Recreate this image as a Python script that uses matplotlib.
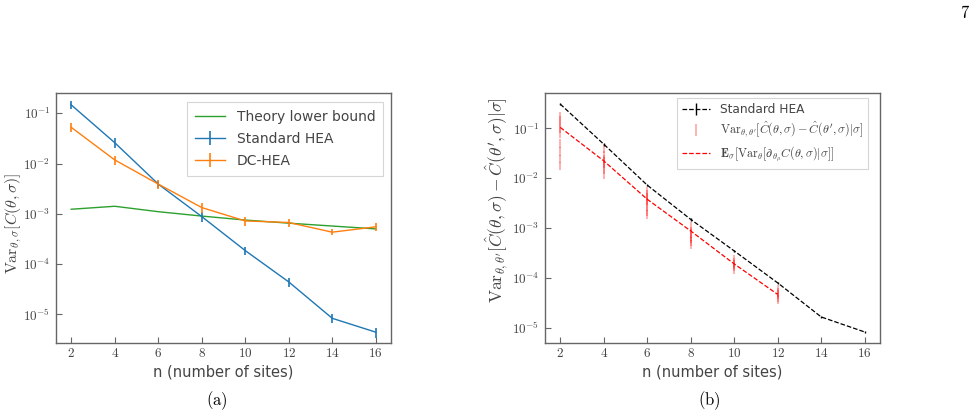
import numpy as np
import matplotlib
matplotlib.use("Agg")
import matplotlib.pyplot as plt
from matplotlib.ticker import FixedLocator, FuncFormatter, LogLocator, NullLocator

plt.rcParams['mathtext.fontset'] = 'cm'
plt.rcParams['font.family'] = ['DejaVu Sans']

# ---------------- data ----------------
n_sites = [2, 4, 6, 8, 10, 12, 14, 16]

theory_lb = [1.23e-3, 1.41e-3, 1.10e-3, 9.0e-4, 7.5e-4, 6.5e-4, 5.7e-4, 5.0e-4]
std_hea_a = [0.147, 0.026, 3.9e-3, 8.8e-4, 1.85e-4, 4.4e-5, 8.3e-6, 4.4e-6]
std_hea_a_err = [0.025, 0.006, 6e-4, 1.8e-4, 3.5e-5, 9e-6, 1.6e-6, 1.0e-6]
dc_hea = [0.0526, 0.0118, 3.9e-3, 1.33e-3, 7.2e-4, 6.7e-4, 4.3e-4, 5.5e-4]
dc_hea_err = [0.011, 0.0025, 8e-4, 3e-4, 1.5e-4, 1.3e-4, 6e-5, 1.0e-4]

std_hea_b = [0.308, 0.0484, 7.3e-3, 1.5e-3, 3.5e-4, 8.0e-5, 1.66e-5, 8.3e-6]
std_hea_b_err = [0.02, 0.003, 4e-4, 1e-4, 2e-5, 5e-6, 1e-6, 5e-7]

n_exp = [2, 4, 6, 8, 10, 12]
exp_grad_var = [0.105, 0.0224, 3.8e-3, 8.8e-4, 1.92e-4, 4.7e-5]

# per-parameter variance estimates (faint red error bars)
diff_var = {
    2: [0.18, 0.15, 0.12, 0.10, 0.08, 0.05, 0.035, 0.025, 0.018],
    4: [0.040, 0.030, 0.025, 0.022, 0.020, 0.018, 0.015, 0.012],
    6: [5.5e-3, 4.8e-3, 4.2e-3, 3.7e-3, 3.3e-3, 2.8e-3, 2.2e-3, 1.9e-3],
    8: [1.1e-3, 9.0e-4, 8.0e-4, 7.0e-4, 6.2e-4, 5.5e-4, 4.8e-4],
    10: [2.4e-4, 2.1e-4, 1.9e-4, 1.7e-4, 1.5e-4],
    12: [6.0e-5, 5.2e-5, 4.7e-5, 4.2e-5, 3.8e-5],
}

xticks = [2, 4, 6, 8, 10, 12, 14, 16]

TXT = '#444444'
SPINE = '#666666'

fig = plt.figure(figsize=(9.77, 4.17), dpi=100)

def style(ax, ylim):
    ax.set_yscale('log')
    ax.set_xlim(1.3, 16.7)
    ax.set_ylim(*ylim)
    ax.xaxis.set_major_locator(FixedLocator(xticks))
    ax.xaxis.set_major_formatter(FuncFormatter(lambda v, p: r'$%d$' % v))
    ax.yaxis.set_major_locator(LogLocator(base=10, numticks=10))
    ax.yaxis.set_major_formatter(FuncFormatter(lambda v, p: r'$10^{%d}$' % round(np.log10(v))))
    ax.yaxis.set_minor_locator(NullLocator())
    ax.tick_params(direction='in', length=4, width=0.8, colors=SPINE,
                   labelcolor=TXT, labelsize=9.5, pad=4)
    ax.tick_params(axis='x', pad=3)
    for s in ax.spines.values():
        s.set_color(SPINE)
        s.set_linewidth(1.0)
    ax.set_xlabel('n (number of sites)', fontsize=10.5, color=TXT, labelpad=3)

# ---------------- panel (a) ----------------
axa = fig.add_axes([0.0573, 0.1775, 0.3429, 0.5995])
axa.plot(n_sites, theory_lb, color='#2ca02c', lw=1.0, label='Theory lower bound')
axa.errorbar(n_sites, std_hea_a, yerr=std_hea_a_err, color='#1f77b4', lw=1.0,
             elinewidth=1.2, label='Standard HEA')
axa.errorbar(n_sites, dc_hea, yerr=dc_hea_err, color='#ff7f0e', lw=1.0,
             elinewidth=1.2, label='DC-HEA')
style(axa, (2.68e-6, 0.2535))
axa.set_ylabel(r'$\mathrm{Var}_{\theta,\sigma}[C(\theta,\sigma)]$', fontsize=11.5,
               color=TXT)
axa.yaxis.set_label_coords(-0.096, 0.48)
leg = axa.legend(loc='upper right', fontsize=10, frameon=True, fancybox=False,
                 borderpad=0.55, handlelength=2.2, labelspacing=0.6,
                 borderaxespad=0, bbox_to_anchor=(0.976, 0.964))
leg.get_frame().set_edgecolor('#cccccc')
leg.get_frame().set_linewidth(0.8)
for t in leg.get_texts():
    t.set_color(TXT)

# ---------------- panel (b) ----------------
axb = fig.add_axes([0.5578, 0.1775, 0.3429, 0.5995])
h_std = axb.errorbar(n_sites, std_hea_b, yerr=std_hea_b_err, color='black', ls='--',
                     lw=0.9, elinewidth=1.0, label='Standard HEA')
h_var = None
for n_val, vals in diff_var.items():
    vals = np.array(vals)
    h = axb.errorbar([n_val] * len(vals), vals, yerr=0.2 * vals, fmt='none',
                     ecolor='red', alpha=0.3, elinewidth=1.4,
                     label=(r'$\mathrm{Var}_{\theta,\theta^{\prime}}[\hat{C}(\theta,\sigma)'
                            r'-\hat{C}(\theta^{\prime},\sigma)|\sigma]$'))
    if h_var is None:
        h_var = h
h_exp, = axb.plot(n_exp, exp_grad_var, color='red', ls='--', lw=0.9,
                  label=r'$\mathbf{E}_{\sigma}[\mathrm{Var}_{\theta}[\partial_{\theta_\mu}C(\theta,\sigma)|\sigma]]$')
style(axb, (5.0e-6, 0.513))
axb.set_ylabel(r'$\mathrm{Var}_{\theta,\theta^{\prime}}[\hat{C}(\theta,\sigma)'
               r'-\hat{C}(\theta^{\prime},\sigma)|\sigma]$', fontsize=12.5,
               color=TXT)
axb.yaxis.set_label_coords(-0.1, 0.57)
legb = axb.legend(handles=[h_std, h_var, h_exp], loc='upper right', fontsize=8.7,
                  frameon=True, fancybox=False, borderpad=0.4, handlelength=2.3,
                  labelspacing=0.35, borderaxespad=0, bbox_to_anchor=(0.964, 0.98))
legb.get_frame().set_edgecolor('#cccccc')
legb.get_frame().set_linewidth(0.8)
for t in legb.get_texts():
    t.set_color(TXT)

# captions and page number
fig.text(217 / 977, 1 - 401 / 417, r'$\mathrm{(a)}$', ha='center', va='center',
         fontsize=12, color='black')
fig.text(709 / 977, 1 - 401 / 417, r'$\mathrm{(b)}$', ha='center', va='center',
         fontsize=12, color='black')
fig.text(965 / 977, 1 - 13 / 417, r'$\mathrm{7}$', ha='center', va='center',
         fontsize=12, color='black')

fig.savefig('out.png', dpi=100)
